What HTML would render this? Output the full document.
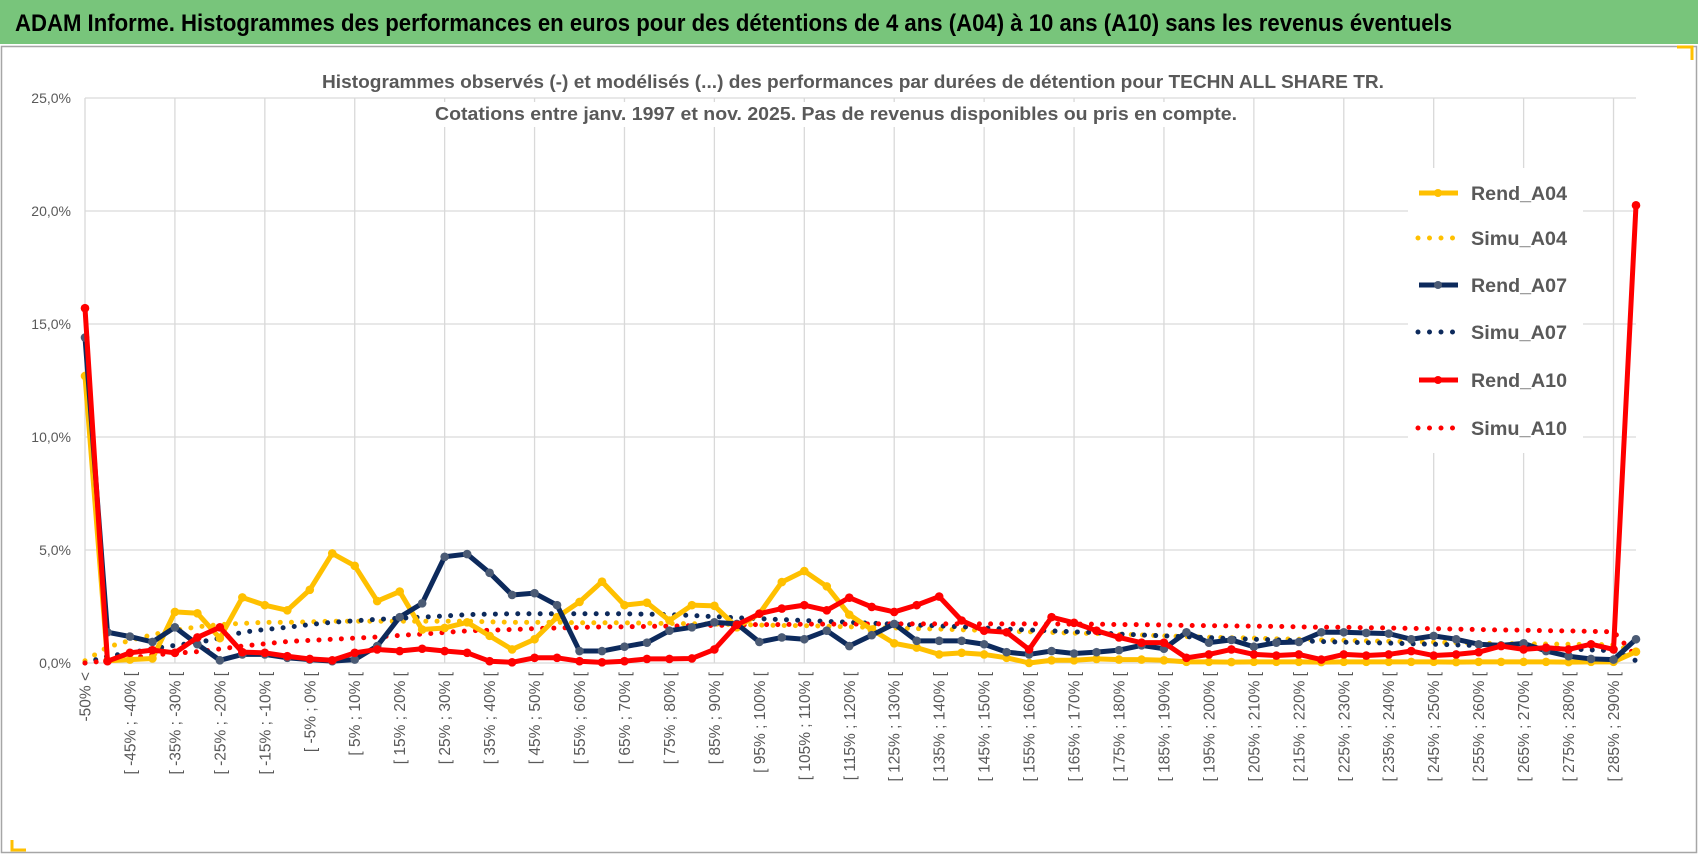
<!DOCTYPE html>
<html><head><meta charset="utf-8"><style>
html,body{margin:0;padding:0;background:#fff;}
svg{display:block;font-family:"Liberation Sans",sans-serif;}
</style></head><body>
<svg id="chart" width="1698" height="854" viewBox="0 0 1698 854">
<rect x="0" y="0" width="1698" height="854" fill="#fff"/>
<rect x="0" y="0" width="1698" height="44" fill="#78c57b"/>
<text x="15" y="31" font-size="24" font-weight="bold" fill="#000" textLength="1437" lengthAdjust="spacingAndGlyphs">ADAM Informe. Histogrammes des performances en euros pour des détentions de 4 ans (A04) à 10 ans (A10) sans les revenus éventuels</text>
<rect x="1.5" y="46.5" width="1695" height="806" fill="none" stroke="#a6a6a6" stroke-width="1.5"/>
<path d="M1677 47 H1692 V60" fill="none" stroke="#ffc000" stroke-width="3"/>
<path d="M12 840 V850 H26" fill="none" stroke="#ffc000" stroke-width="3"/>
<g id="grid"></g>
<rect x="432" y="102" width="808" height="25" fill="#fff"/>
<rect x="1408" y="168" width="175" height="285" fill="#fff"/>
<text x="853" y="88" text-anchor="middle" font-size="18.5" font-weight="bold" fill="#595959" textLength="1062" lengthAdjust="spacingAndGlyphs">Histogrammes observés (-) et modélisés (...) des performances par durées de détention pour TECHN ALL SHARE TR.</text>
<text x="836" y="120" text-anchor="middle" font-size="18.5" font-weight="bold" fill="#595959" textLength="802" lengthAdjust="spacingAndGlyphs">Cotations entre janv. 1997 et nov. 2025. Pas de revenus disponibles ou pris en compte.</text>
<g id="axes"></g><g id="series"></g><g id="legend"></g>
</svg>
<script>
const categories = (function(){const a=["-50% <"];for(let k=0;k<68;k++){a.push("[ "+(-50+5*k)+"% ; "+(-45+5*k)+"% [");}a.push("> 290%");return a;})();
const yTicks = [0,5,10,15,20,25];
const yTickLabels = ["0,0%","5,0%","10,0%","15,0%","20,0%","25,0%"];
const rendA04 = [12.7,0.1,0.15,0.2,2.26,2.2,1.1,2.9,2.56,2.33,3.24,4.85,4.3,2.74,3.16,1.48,1.55,1.8,1.2,0.6,1.05,2.03,2.7,3.6,2.56,2.67,1.88,2.56,2.53,1.58,2.18,3.58,4.07,3.39,2.14,1.48,0.87,0.68,0.38,0.45,0.38,0.23,0.0,0.12,0.12,0.18,0.15,0.15,0.12,0.05,0.05,0.04,0.05,0.05,0.05,0.04,0.05,0.05,0.05,0.05,0.05,0.04,0.05,0.05,0.05,0.05,0.04,0.05,0.05,0.5];
const rendA07 = [14.4,1.36,1.17,0.93,1.58,0.83,0.12,0.38,0.38,0.23,0.15,0.08,0.15,0.75,2.03,2.64,4.7,4.82,3.99,3.01,3.09,2.56,0.53,0.53,0.72,0.9,1.43,1.58,1.8,1.73,0.93,1.13,1.05,1.43,0.75,1.23,1.73,0.98,0.98,0.98,0.83,0.48,0.38,0.53,0.42,0.48,0.57,0.78,0.63,1.36,0.9,1.02,0.72,0.9,0.93,1.36,1.36,1.33,1.3,1.05,1.2,1.05,0.83,0.78,0.87,0.53,0.3,0.18,0.15,1.05];
const rendA10 = [15.7,0.08,0.45,0.57,0.45,1.13,1.58,0.48,0.45,0.3,0.18,0.12,0.45,0.6,0.53,0.63,0.53,0.45,0.08,0.03,0.23,0.23,0.08,0.03,0.08,0.18,0.18,0.2,0.6,1.69,2.18,2.41,2.56,2.33,2.89,2.48,2.26,2.56,2.94,1.88,1.43,1.36,0.6,2.03,1.78,1.43,1.13,0.9,0.9,0.23,0.38,0.6,0.38,0.33,0.38,0.15,0.38,0.33,0.38,0.53,0.33,0.38,0.48,0.75,0.6,0.68,0.6,0.83,0.6,20.25];
const simuA04 = [0.1,0.7,1.0,1.25,1.45,1.6,1.7,1.75,1.8,1.8,1.82,1.85,1.85,1.85,1.85,1.85,1.85,1.85,1.82,1.8,1.8,1.8,1.78,1.78,1.78,1.76,1.75,1.74,1.72,1.7,1.68,1.66,1.65,1.63,1.6,1.58,1.55,1.52,1.5,1.47,1.44,1.4,1.38,1.35,1.32,1.3,1.27,1.24,1.2,1.17,1.14,1.12,1.1,1.07,1.05,1.02,1.0,0.98,0.96,0.94,0.92,0.9,0.88,0.86,0.85,0.84,0.83,0.82,0.8,0.5];
const simuA07 = [0.0,0.3,0.45,0.63,0.78,0.9,1.1,1.36,1.48,1.58,1.7,1.8,1.87,1.93,1.98,2.03,2.08,2.14,2.16,2.18,2.18,2.18,2.18,2.18,2.18,2.16,2.14,2.1,2.05,2.0,1.96,1.92,1.88,1.84,1.8,1.76,1.72,1.68,1.64,1.6,1.55,1.5,1.46,1.42,1.38,1.34,1.28,1.24,1.2,1.16,1.12,1.08,1.05,1.02,0.98,0.95,0.92,0.9,0.88,0.85,0.83,0.8,0.77,0.74,0.7,0.66,0.62,0.58,0.54,0.1];
const simuA10 = [0.0,0.1,0.22,0.35,0.43,0.5,0.62,0.75,0.85,0.95,1.0,1.05,1.1,1.15,1.22,1.28,1.35,1.42,1.45,1.48,1.52,1.55,1.57,1.6,1.6,1.62,1.63,1.65,1.66,1.68,1.7,1.7,1.72,1.72,1.72,1.73,1.73,1.73,1.73,1.73,1.73,1.73,1.73,1.73,1.72,1.72,1.7,1.7,1.68,1.66,1.65,1.64,1.63,1.62,1.6,1.58,1.58,1.56,1.55,1.53,1.52,1.5,1.48,1.46,1.45,1.43,1.42,1.4,1.38,0.3];

const NS="http://www.w3.org/2000/svg";
const X0=85, X1=1636, Y0=663, YTOP=98, YMAX=25;
function xPos(i){return X0+(X1-X0)*i/(categories.length-1);}
function yPos(v){return Y0-(Y0-YTOP)*v/YMAX;}
function mk(tag,parent){const e=document.createElementNS(NS,tag);parent.appendChild(e);return e;}
const grid=document.getElementById('grid'), axes=document.getElementById('axes'), series=document.getElementById('series'), legend=document.getElementById('legend');

yTicks.forEach((t,k)=>{
  const l=mk('line',grid);
  
  
  l.setAttribute('x1',X0);l.setAttribute('x2',X1);l.setAttribute('y1',yPos(t));l.setAttribute('y2',yPos(t));
  l.setAttribute('stroke','#d9d9d9');l.setAttribute('stroke-width','1.3');
  const tx=mk('text',axes);
  
  
  tx.setAttribute('x',71);tx.setAttribute('y',yPos(t)+5);tx.setAttribute('text-anchor','end');
  tx.setAttribute('font-size','14');tx.setAttribute('fill','#595959');
  tx.textContent=yTickLabels[k];
});
for(let i=0;i<categories.length;i+=4){
  const l=mk('line',grid);
  
  
  l.setAttribute('x1',xPos(i));l.setAttribute('x2',xPos(i));l.setAttribute('y1',YTOP);l.setAttribute('y2',Y0);
  l.setAttribute('stroke','#d9d9d9');l.setAttribute('stroke-width','1.3');
}
for(let i=0;i<categories.length;i+=2){
  const tx=mk('text',axes);
  
  
  const x=xPos(i)+5.5, y=672;
  tx.setAttribute('transform','translate('+x+','+y+') rotate(-90)');
  tx.setAttribute('text-anchor','end');tx.setAttribute('font-size','15.5');tx.setAttribute('fill','#595959');
  tx.textContent=categories[i];
}

function drawLine(vals,color,name,markerColor){
  const p=mk('polyline',series);
  
  
  p.setAttribute('points',vals.map((v,i)=>xPos(i)+','+yPos(v)).join(' '));
  p.setAttribute('fill','none');p.setAttribute('stroke',color);p.setAttribute('stroke-width','5');p.setAttribute('stroke-linejoin','round');
  vals.forEach((v,i)=>{
    const c=mk('circle',series);
    
    
    c.setAttribute('cx',xPos(i));c.setAttribute('cy',yPos(v));c.setAttribute('r','4.3');c.setAttribute('fill',markerColor);
  });
}
function drawDots(vals,color,name){
  const p=mk('polyline',series);
  
  
  p.setAttribute('points',vals.map((v,i)=>xPos(i)+','+yPos(v)).join(' '));
  p.setAttribute('fill','none');p.setAttribute('stroke',color);p.setAttribute('stroke-width','5');
  p.setAttribute('stroke-linecap','round');p.setAttribute('stroke-dasharray','0 11.2');
}
drawDots(simuA04,'#ffc000','simu-a04');
drawDots(simuA07,'#0d2a5c','simu-a07');
drawDots(simuA10,'#ff0000','simu-a10');
drawLine(rendA04,'#ffc000','rend-a04','#ffc000');
drawLine(rendA07,'#0d2a5c','rend-a07','#4b5b75');
drawLine(rendA10,'#ff0000','rend-a10','#ff0000');

const legendNames=["Rend_A04","Simu_A04","Rend_A07","Simu_A07","Rend_A10","Simu_A10"];
const legendColors=["#ffc000","#ffc000","#0d2a5c","#0d2a5c","#ff0000","#ff0000"];
const legendY=[193,238,285,332,380,428];
legendNames.forEach((n,k)=>{
  const g=mk('g',legend);
  
  
  const y=legendY[k];
  const l=mk('line',g);
  
  
  l.setAttribute('x1',1419);l.setAttribute('x2',1458);l.setAttribute('y1',y);l.setAttribute('y2',y);
  l.setAttribute('stroke',legendColors[k]);l.setAttribute('stroke-width','5');
  if(n.startsWith('Simu')){l.setAttribute('stroke-linecap','round');l.setAttribute('stroke-dasharray','0 11.5');l.setAttribute('x1',1418);}
  else{
    const c=mk('circle',g);
    
    
    c.setAttribute('cx',1438);c.setAttribute('cy',y);c.setAttribute('r','4');c.setAttribute('fill',n==='Rend_A07'?'#4b5b75':legendColors[k]);
  }
  const t=mk('text',g);
  
  
  t.setAttribute('x',1471);t.setAttribute('y',y+7);t.setAttribute('font-size','19');t.setAttribute('font-weight','bold');t.setAttribute('fill','#595959');
  t.setAttribute('textLength','96');t.setAttribute('lengthAdjust','spacingAndGlyphs');
  t.textContent=n;
});
</script>
</body></html>
